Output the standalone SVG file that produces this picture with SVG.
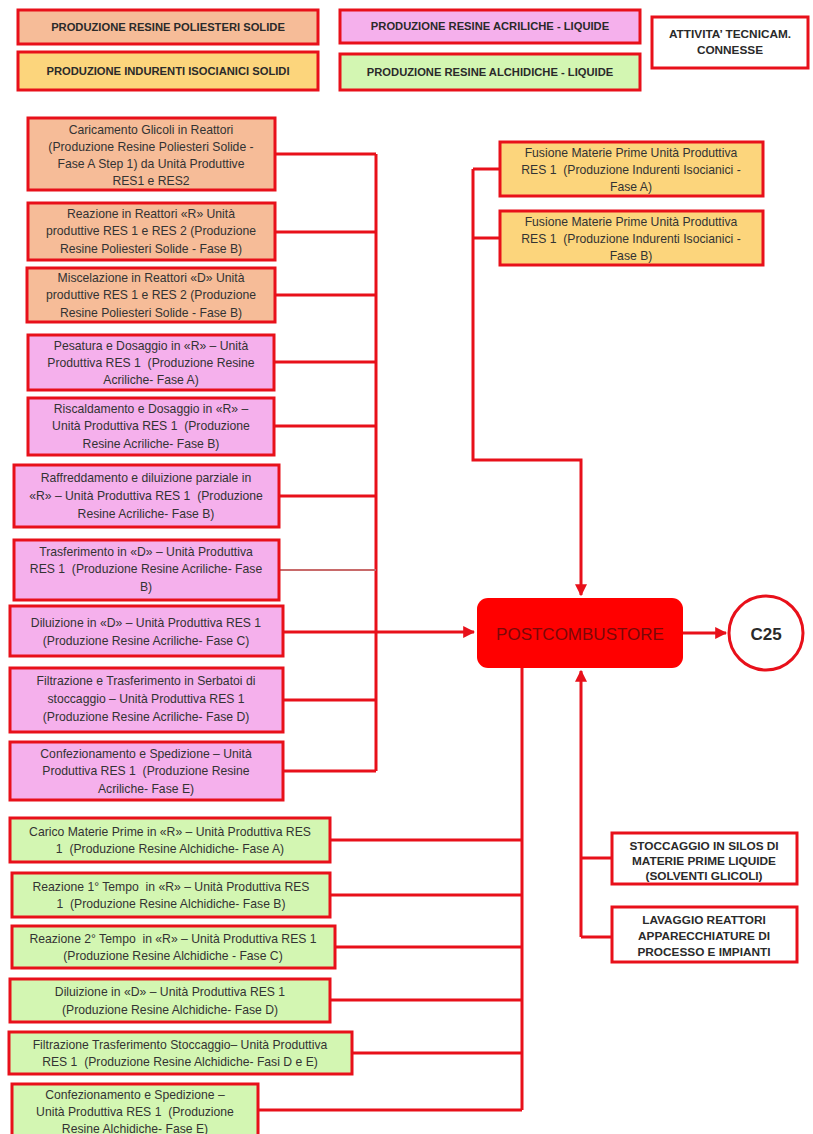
<svg xmlns="http://www.w3.org/2000/svg" width="813" height="1134" viewBox="0 0 813 1134">
<style>
.b{stroke:#E8101A;stroke-width:3}
.po{fill:#F6BC98}.ac{fill:#F5B0EC}.in{fill:#FCD57C}.al{fill:#D3F6B2}.wh{fill:#FFFFFF}
text{font-family:"Liberation Sans",Arial,sans-serif;fill:#333333;text-anchor:middle}
.t{font-size:12.2px}
.lg{font-size:11.2px;font-weight:bold;fill:#2A2A2A}
.bt{font-size:11.8px;font-weight:bold;fill:#2A2A2A}
.c{fill:none;stroke:#E8101A;stroke-width:3}
</style>
<defs>
<marker id="ah" viewBox="0 0 10 10" refX="9" refY="5" markerWidth="4" markerHeight="4" orient="auto" markerUnits="strokeWidth">
<path d="M0,0 L10,5 L0,10 z" fill="#E8101A"/>
</marker>
</defs>
<rect width="813" height="1134" fill="#FFFFFF"/>

<g id="connectors">
<path class="c" d="M275,154 H376 M275,232 H376 M275,295 H376 M274,362 H376 M274,426 H376 M279,496 H376 M283,632 H376 M283,700 H376 M283,771 H376 M376,154 V771"/>
<path d="M279,570 H376" fill="none" stroke="#C86A6A" stroke-width="2"/>
<path class="c" d="M376,632 H474" marker-end="url(#ah)"/>
<path class="c" d="M500,169 H473 M500,238 H473 M473,169 V460 H581 V595" marker-end="url(#ah)"/>
<path class="c" d="M683,633 H726" marker-end="url(#ah)"/>
<path class="c" d="M330,840 H522 M330,895 H522 M335,947 H522 M330,1000 H522 M352,1053 H522 M258,1110 H522 M522,668 V1110"/>
<path class="c" d="M612,858 H581 M612,937 H581 M581,937 V671" marker-end="url(#ah)"/>
</g>

<g id="legend-poliesteri"><rect class="b po" x="18" y="10" width="300" height="34"/><text class="lg" x="168" y="31">PRODUZIONE RESINE POLIESTERI SOLIDE</text></g>
<g id="legend-acriliche"><rect class="b ac" x="340" y="10" width="300" height="33"/><text class="lg" x="490" y="30">PRODUZIONE RESINE ACRILICHE - LIQUIDE</text></g>
<g id="legend-attivita"><rect class="b wh" x="652" y="17" width="156" height="51"/><text class="bt" x="730" y="38">ATTIVITA’ TECNICAM.</text><text class="bt" x="730" y="54">CONNESSE</text></g>
<g id="legend-indurenti"><rect class="b in" x="18" y="52" width="300" height="38"/><text class="lg" x="168" y="75">PRODUZIONE INDURENTI ISOCIANICI SOLIDI</text></g>
<g id="legend-alchidiche"><rect class="b al" x="340" y="54" width="300" height="36"/><text class="lg" x="490" y="76">PRODUZIONE RESINE ALCHIDICHE - LIQUIDE</text></g>

<g id="n1"><rect class="b po" x="28" y="118" width="247" height="72"/>
<text class="t" x="151" y="134">Caricamento Glicoli in Reattori</text>
<text class="t" x="151" y="151">(Produzione Resine Poliesteri Solide -</text>
<text class="t" x="151" y="168">Fase A Step 1) da Unità Produttive</text>
<text class="t" x="151" y="185">RES1 e RES2</text></g>
<g id="n2"><rect class="b po" x="28" y="203" width="247" height="57"/>
<text class="t" x="151" y="218">Reazione in Reattori «R» Unità</text>
<text class="t" x="151" y="235">produttive RES 1 e RES 2 (Produzione</text>
<text class="t" x="151" y="253">Resine Poliesteri Solide - Fase B)</text></g>
<g id="n3"><rect class="b po" x="27" y="268" width="248" height="54"/>
<text class="t" x="151" y="282">Miscelazione in Reattori «D» Unità</text>
<text class="t" x="151" y="299">produttive RES 1 e RES 2 (Produzione</text>
<text class="t" x="151" y="317">Resine Poliesteri Solide - Fase B)</text></g>

<g id="n4"><rect class="b ac" x="28" y="335" width="246" height="55"/>
<text class="t" x="151" y="350">Pesatura e Dosaggio in «R» – Unità</text>
<text class="t" x="151" y="367" xml:space="preserve">Produttiva RES 1  (Produzione Resine</text>
<text class="t" x="151" y="384">Acriliche- Fase A)</text></g>
<g id="n5"><rect class="b ac" x="28" y="398" width="246" height="57"/>
<text class="t" x="151" y="413">Riscaldamento e Dosaggio in «R» –</text>
<text class="t" x="151" y="430" xml:space="preserve">Unità Produttiva RES 1  (Produzione</text>
<text class="t" x="151" y="448">Resine Acriliche- Fase B)</text></g>
<g id="n6"><rect class="b ac" x="14" y="465" width="265" height="62"/>
<text class="t" x="146" y="482">Raffreddamento e diluizione parziale in</text>
<text class="t" x="146" y="500" xml:space="preserve">«R» – Unità Produttiva RES 1  (Produzione</text>
<text class="t" x="146" y="518">Resine Acriliche- Fase B)</text></g>
<g id="n7"><rect class="b ac" x="14" y="540" width="265" height="60"/>
<text class="t" x="146" y="556">Trasferimento in «D» – Unità Produttiva</text>
<text class="t" x="146" y="573" xml:space="preserve">RES 1  (Produzione Resine Acriliche- Fase</text>
<text class="t" x="146" y="591">B)</text></g>
<g id="n8"><rect class="b ac" x="10" y="606" width="273" height="50"/>
<text class="t" x="146" y="627">Diluizione in «D» – Unità Produttiva RES 1</text>
<text class="t" x="146" y="645">(Produzione Resine Acriliche- Fase C)</text></g>
<g id="n9"><rect class="b ac" x="10" y="668" width="273" height="64"/>
<text class="t" x="146" y="685">Filtrazione e Trasferimento in Serbatoi di</text>
<text class="t" x="146" y="703">stoccaggio – Unità Produttiva RES 1</text>
<text class="t" x="146" y="721">(Produzione Resine Acriliche- Fase D)</text></g>
<g id="n10"><rect class="b ac" x="10" y="742" width="273" height="58"/>
<text class="t" x="146" y="758">Confezionamento e Spedizione – Unità</text>
<text class="t" x="146" y="775" xml:space="preserve">Produttiva RES 1  (Produzione Resine</text>
<text class="t" x="146" y="793">Acriliche- Fase E)</text></g>

<g id="n11"><rect class="b al" x="10" y="818" width="320" height="44"/>
<text class="t" x="170" y="836">Carico Materie Prime in «R» – Unità Produttiva RES</text>
<text class="t" x="170" y="853" xml:space="preserve">1  (Produzione Resine Alchidiche- Fase A)</text></g>
<g id="n12"><rect class="b al" x="12" y="873" width="318" height="44"/>
<text class="t" x="171" y="891" xml:space="preserve">Reazione 1° Tempo  in «R» – Unità Produttiva RES</text>
<text class="t" x="171" y="908" xml:space="preserve">1  (Produzione Resine Alchidiche- Fase B)</text></g>
<g id="n13"><rect class="b al" x="12" y="926" width="323" height="42"/>
<text class="t" x="173" y="943" xml:space="preserve">Reazione 2° Tempo  in «R» – Unità Produttiva RES 1</text>
<text class="t" x="173" y="960">(Produzione Resine Alchidiche - Fase C)</text></g>
<g id="n14"><rect class="b al" x="10" y="979" width="320" height="43"/>
<text class="t" x="170" y="996">Diluizione in «D» – Unità Produttiva RES 1</text>
<text class="t" x="170" y="1014">(Produzione Resine Alchidiche- Fase D)</text></g>
<g id="n15"><rect class="b al" x="9" y="1032" width="343" height="42"/>
<text class="t" x="180" y="1049">Filtrazione Trasferimento Stoccaggio– Unità Produttiva</text>
<text class="t" x="180" y="1066" xml:space="preserve">RES 1  (Produzione Resine Alchidiche- Fasi D e E)</text></g>
<g id="n16"><rect class="b al" x="12" y="1084" width="246" height="56"/>
<text class="t" x="135" y="1099">Confezionamento e Spedizione –</text>
<text class="t" x="135" y="1116" xml:space="preserve">Unità Produttiva RES 1  (Produzione</text>
<text class="t" x="135" y="1133">Resine Alchidiche- Fase E)</text></g>

<g id="fusioneA"><rect class="b in" x="500" y="142" width="263" height="54"/>
<text class="t" x="631" y="157">Fusione Materie Prime Unità Produttiva</text>
<text class="t" x="631" y="174" xml:space="preserve">RES 1  (Produzione Indurenti Isocianici -</text>
<text class="t" x="631" y="191">Fase A)</text></g>
<g id="fusioneB"><rect class="b in" x="500" y="211" width="263" height="54"/>
<text class="t" x="631" y="226">Fusione Materie Prime Unità Produttiva</text>
<text class="t" x="631" y="243" xml:space="preserve">RES 1  (Produzione Indurenti Isocianici -</text>
<text class="t" x="631" y="260">Fase B)</text></g>

<g id="postcombustore"><rect x="477" y="598" width="206" height="70" rx="11" fill="#FF0000"/>
<text x="580" y="640" style="font-size:17px;fill:#7A0808">POSTCOMBUSTORE</text></g>
<g id="c25"><circle cx="766" cy="633" r="37" fill="#FFFFFF" stroke="#E8101A" stroke-width="3"/>
<text x="766" y="640" style="font-size:17px;font-weight:bold;fill:#2A2A2A">C25</text></g>

<g id="stoccaggio"><rect class="b wh" x="612" y="833" width="185" height="51"/>
<text class="bt" x="704" y="850">STOCCAGGIO IN SILOS DI</text>
<text class="bt" x="704" y="865">MATERIE PRIME LIQUIDE</text>
<text class="bt" x="704" y="880">(SOLVENTI GLICOLI)</text></g>
<g id="lavaggio"><rect class="b wh" x="612" y="907" width="185" height="55"/>
<text class="bt" x="704" y="924">LAVAGGIO REATTORI</text>
<text class="bt" x="704" y="940">APPARECCHIATURE DI</text>
<text class="bt" x="704" y="956">PROCESSO E IMPIANTI</text></g>
</svg>
